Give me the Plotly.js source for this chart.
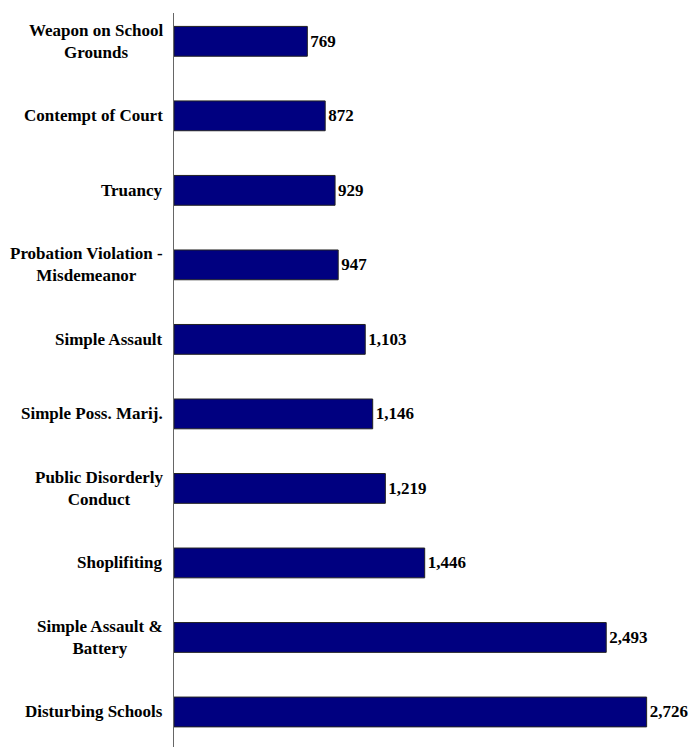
<!DOCTYPE html>
<html><head><meta charset="utf-8">
<script src="https://cdn.plot.ly/plotly-3.0.1.min.js"></script>
<style>html,body{margin:0;padding:0;background:#fff}#c{width:695px;height:747px}</style>
</head><body><div id="c"></div>
<script>
const categories = ["Weapon on School<br>Grounds","Contempt of Court","Truancy","Probation Violation -<br>Misdemeanor","Simple Assault","Simple Poss. Marij.","Public Disorderly<br>Conduct","Shoplifiting","Simple Assault &<br>Battery","Disturbing Schools"];
const values = [769,872,929,947,1103,1146,1219,1446,2493,2726];
const valueLabels = values.map(v => v.toLocaleString('en-US'));
const font = {family:"'Liberation Serif', 'Times New Roman', serif", size:17, color:"#000"};

const trace = {
  type:"bar", orientation:"h",
  y: categories, x: values,
  text: valueLabels, textposition:"outside", cliponaxis:false,
  textfont: {family:font.family, size:17, color:"#000"},
  texttemplate: "<b>%{text}</b>",
  marker:{color:"#000080", line:{color:"#222", width:1}},
  width:0.4, hoverinfo:"none"
};
const annotations = categories.map(c => ({
  xref:"paper", yref:"y", x:0, y:c, xanchor:"right", yanchor:"middle",
  xshift:-9, text:"<b>"+c+"</b>", showarrow:false, align:"center", font:font
}));
Plotly.newPlot("c",[trace],{
  width:695, height:747,
  margin:{l:174, r:0, t:13, b:0},
  paper_bgcolor:"#fff", plot_bgcolor:"#fff",
  showlegend:false,
  xaxis:{range:[0,3005], visible:false, fixedrange:true},
  yaxis:{type:"category", range:[9.47,-0.38], showticklabels:false, ticks:"",
         showgrid:false, zeroline:false, showline:true, linecolor:"#666", linewidth:1},
  annotations: annotations
},{displayModeBar:false, staticPlot:true});
</script></body></html>
